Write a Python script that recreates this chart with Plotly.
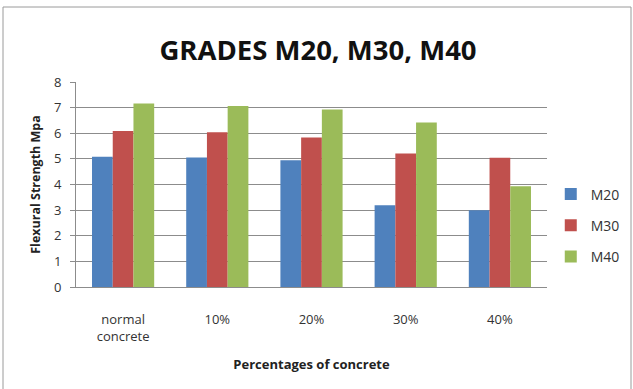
import plotly.graph_objects as go

categories = ["normal<br>concrete", "10%", "20%", "30%", "40%"]
m20 = [5.08, 5.05, 4.95, 3.19, 3.00]
m30 = [6.09, 6.04, 5.83, 5.21, 5.04]
m40 = [7.16, 7.06, 6.93, 6.42, 3.93]
series_names = ["M20", "M30", "M40"]
colors = ["#4F81BD", "#C0504D", "#9BBB59"]
y_ticks = [0, 1, 2, 3, 4, 5, 6, 7, 8]

FONT = "Open Sans, Noto Sans, DejaVu Sans, sans-serif"

fig = go.Figure()
for name, vals, col in zip(series_names, [m20, m30, m40], colors):
    fig.add_trace(go.Bar(
        x=categories, y=vals, name=name, marker_color=col,
        marker_line_width=0, legendgroup=name,
    ))

fig.update_layout(
    width=633, height=389,
    margin=dict(l=76, r=86, t=82, b=102, autoexpand=False),
    paper_bgcolor="white", plot_bgcolor="white",
    barmode="group", bargap=0.34, bargroupgap=0,
    font=dict(family=FONT, size=13, color="#333333"),
    title=dict(
        text="<b>GRADES M20, M30, M40</b>",
        x=318 / 633, xref="container", xanchor="center",
        y=1 - 50 / 389, yref="container", yanchor="middle",
        font=dict(family=FONT, size=27.5, color="#111111"),
    ),
    legend=dict(
        x=1.008, xref="paper", xanchor="left",
        y=0.30, yanchor="middle",
        font=dict(family=FONT, size=14, color="#333333"),
        tracegroupgap=10, itemwidth=30,
        bgcolor="rgba(0,0,0,0)",
    ),
    showlegend=True,
)

fig.update_xaxes(
    showgrid=False, showline=True, linecolor="#8c8c8c", linewidth=1,
    ticks="", tickfont=dict(size=13, color="#333333"),
    ticklabelstandoff=20,
    title=dict(text="<b>Percentages of concrete</b>",
               font=dict(size=13, color="#222222"), standoff=16),
)
fig.update_yaxes(
    range=[0, 8], tickvals=y_ticks, showgrid=True, gridcolor="#8c8c8c",
    gridwidth=1, showline=True, linecolor="#8c8c8c", linewidth=1,
    ticks="outside", ticklen=5, tickcolor="#8c8c8c",
    tickfont=dict(size=13, color="#333333"), zeroline=False,
    ticklabelstandoff=6,
    title=dict(text="<b>Flexural Strength Mpa</b>",
               font=dict(size=12.5, color="#222222"), standoff=10),
)

# outer chart frame
fig.add_shape(type="rect", xref="paper", yref="paper",
              x0=-73 / 471, x1=1 + 84 / 471,
              y0=-110 / 205, y1=1 + 75 / 205,
              line=dict(color="#9a9a9a", width=1), layer="below")

fig.write_html("out.html")
